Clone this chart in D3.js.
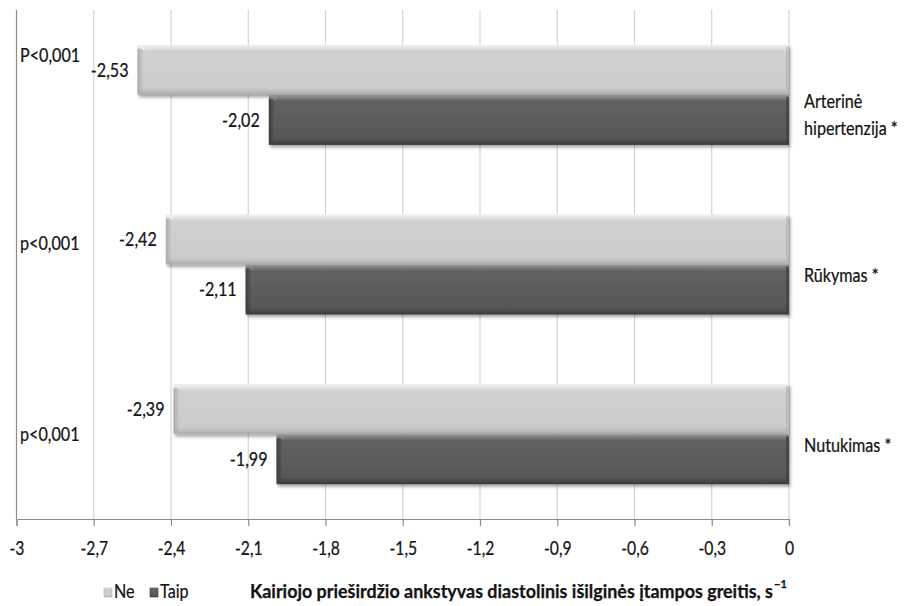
<!DOCTYPE html>
<html><head><meta charset="utf-8">
<script src="https://cdn.jsdelivr.net/npm/d3@7"></script>
<style>body{margin:0;background:#fff}svg{display:block}text{font-family:Lato,"Open Sans",sans-serif;fill:#141414;stroke:#141414;stroke-width:0.25px}</style>
</head><body>
<svg id="c" width="905" height="606"></svg>
<script>
const categories = ["Arterinė hipertenzija *", "Rūkymas *", "Nutukimas *"];
const categoryLines = [["Arterinė", "hipertenzija *"], ["Rūkymas *"], ["Nutukimas *"]];
const series = ["Ne", "Taip"];
const neValues = [-2.53, -2.42, -2.39];
const taipValues = [-2.02, -2.11, -1.99];
const valueLabels = [["-2,53", "-2,02"], ["-2,42", "-2,11"], ["-2,39", "-1,99"]];
const pLabels = ["P<0,001", "p<0,001", "p<0,001"];
const tickValues = [-3, -2.7, -2.4, -2.1, -1.8, -1.5, -1.2, -0.9, -0.6, -0.3, 0];
const tickLabels = ["-3", "-2,7", "-2,4", "-2,1", "-1,8", "-1,5", "-1,2", "-0,9", "-0,6", "-0,3", "0"];
const axisTitle = "Kairiojo prieširdžio ankstyvas diastolinis išilginės įtampos greitis, s";
const axisTitleSup = "−1";

(function () {
const svg = d3.select("#c");
const SX = 0.85;
const FS = "19px";
const pLeft = 16.5, pRight = 789, pTop = 10, pBottom = 519;
const x = d3.scaleLinear().domain([-3, 0]).range([pLeft, pRight]);
const y = d3.scaleBand().domain(categories).range([pTop, pBottom]).paddingInner(0.41).paddingOuter(0.205);
const sub = d3.scaleBand().domain(series).range([0, y.bandwidth()]);

const defs = svg.append("defs");
function vgrad(id, stops) {
  const g = defs.append("linearGradient").attr("id", id).attr("x1", 0).attr("y1", 0).attr("x2", 0).attr("y2", 1);
  stops.forEach(s => g.append("stop").attr("offset", s[0]).attr("stop-color", s[1]));
}
vgrad("gNe", [[0, "#f0f0f0"], [0.07, "#e2e2e2"], [0.13, "#d0d0d0"], [0.86, "#cbcbcb"], [0.93, "#bdbdbd"], [1, "#a9a9a9"]]);
vgrad("gTaip", [[0, "#9a9a9a"], [0.07, "#7a7a7a"], [0.13, "#616161"], [0.86, "#575757"], [0.93, "#4a4a4a"], [1, "#383838"]]);
const hg = (id, c1) => {
  const g = defs.append("linearGradient").attr("id", id).attr("x1", 0).attr("y1", 0).attr("x2", 1).attr("y2", 0);
  g.append("stop").attr("offset", 0).attr("stop-color", c1).attr("stop-opacity", 0.9);
  g.append("stop").attr("offset", 1).attr("stop-color", c1).attr("stop-opacity", 0);
};
hg("lNe", "#a8a8a8"); hg("lTaip", "#3a3a3a");
const f = defs.append("filter").attr("id", "sh").attr("x", "-5%").attr("y", "-20%").attr("width", "110%").attr("height", "150%");
f.append("feDropShadow").attr("dx", 1.5).attr("dy", 2.5).attr("stdDeviation", 1.8).attr("flood-color", "#000").attr("flood-opacity", 0.35);

// gridlines
svg.append("g").selectAll("line").data(tickValues).join("line")
  .attr("x1", d => x(d)).attr("x2", d => x(d)).attr("y1", pTop).attr("y2", pBottom)
  .attr("stroke", d => d === -3 ? "#8c8c8c" : "#d4d4d4").attr("stroke-width", 1.2);

// axis
const axis = d3.axisBottom(x).tickValues(tickValues).tickSize(7).tickFormat((d, i) => tickLabels[i]);
const ag = svg.append("g").attr("transform", `translate(0,${pBottom})`).call(axis);
ag.select(".domain").attr("stroke", "#8c8c8c").attr("stroke-width", 1.2);
ag.selectAll(".tick line").attr("stroke", "#8c8c8c").attr("stroke-width", 1.2);
ag.selectAll(".tick text").attr("y", 0).attr("dy", 0)
  .attr("transform", `translate(0,36) scale(${SX},1)`)
  .style("font-family", "Lato,'Open Sans',sans-serif").style("font-size", "18.5px")
  .style("fill", "#141414").style("stroke", "#141414").style("stroke-width", "0.25px");

// bars
const bars = [];
categories.forEach((c, i) => [neValues[i], taipValues[i]].forEach((v, j) =>
  bars.push({c, i, s: series[j], v, lab: valueLabels[i][j]})));

const bg = svg.append("g");
bars.forEach(b => {
  const x0 = x(b.v), x1 = x(0), y0 = y(b.c) + sub(b.s), h = sub.bandwidth();
  const g = bg.append("g");
  g.append("rect").attr("x", x0).attr("y", y0).attr("width", x1 - x0).attr("height", h)
    .attr("fill", `url(#g${b.s})`).attr("filter", "url(#sh)");
  g.append("rect").attr("x", x0).attr("y", y0 + 4).attr("width", 6).attr("height", h - 6)
    .attr("fill", `url(#l${b.s})`);
  g.append("polygon").attr("points", `${x0},${y0} ${x0 + 7},${y0 + 6} ${x0 + 7},${y0 + 3}`)
    .attr("fill", b.s === "Ne" ? "#f4f4f4" : "#8e8e8e").attr("opacity", 0.8);
  g.append("rect").attr("x", x1 - 3).attr("y", y0 + 2).attr("width", 3).attr("height", h - 2)
    .attr("fill", b.s === "Ne" ? "#b5b5b5" : "#3f3f3f").attr("opacity", 0.7);
});

// value labels
svg.append("g").selectAll("text").data(bars).join("text")
  .attr("transform", d => `translate(${x(d.v) - 9},${y(d.c) + sub(d.s) + sub.bandwidth() / 2 + 2}) scale(${SX},1)`)
  .attr("text-anchor", "end").attr("dominant-baseline", "middle")
  .style("font-size", FS).text(d => d.lab);

// p labels (free text boxes beside each category)
const pOff = [12, 31, 52];
svg.append("g").selectAll("text").data(categories).join("text")
  .attr("transform", (d, i) => `translate(20,${y(d) + pOff[i]}) scale(${SX},1)`)
  .attr("dominant-baseline", "middle").style("font-size", FS).text((d, i) => pLabels[i]);

// category labels
const cg = svg.append("g");
categories.forEach((c, i) => {
  const lines = categoryLines[i];
  const cy = y(c) + y.bandwidth() / 2 + (lines.length > 1 ? 22 : 13);
  lines.forEach((t, k) => {
    cg.append("text")
      .attr("transform", `translate(804,${cy + (k - (lines.length - 1) / 2) * 27}) scale(${SX},1)`)
      .attr("dominant-baseline", "middle").style("font-size", FS).text(t);
  });
});

// legend
const lg = svg.append("g");
const legendX = [104, 150];
series.forEach((s, k) => {
  lg.append("rect").attr("x", legendX[k]).attr("y", 588).attr("width", 8).attr("height", 9)
    .attr("fill", `url(#g${s})`).attr("stroke", s === "Ne" ? "#b0b0b0" : "#333").attr("stroke-width", 0.6);
  lg.append("text").attr("transform", `translate(${legendX[k] + 10},593) scale(${SX},1)`)
    .attr("dominant-baseline", "middle").style("font-size", FS).text(s);
});

// axis title
svg.append("text").attr("x", 250).attr("y", 593)
  .attr("dominant-baseline", "middle").style("font-size", "18px").style("font-weight", "bold")
  .attr("textLength", 523).attr("lengthAdjust", "spacingAndGlyphs").text(axisTitle);
svg.append("text").attr("x", 774).attr("y", 585)
  .attr("dominant-baseline", "middle").style("font-size", "11px").style("font-weight", "bold")
  .text(axisTitleSup);
})();
</script>
</body></html>
